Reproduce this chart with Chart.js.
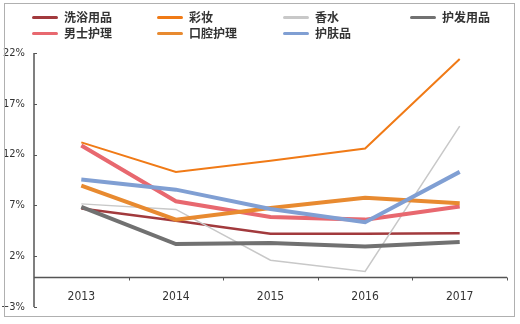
<!DOCTYPE html>
<html>
<head>
<meta charset="utf-8">
<script src="https://cdn.jsdelivr.net/npm/chart.js@4/dist/chart.umd.min.js"></script>
<style>
  html, body { margin: 0; padding: 0; background: #fff; }
  #wrap { position: relative; width: 520px; height: 324px; }
  #frame { position: absolute; left: 4px; top: 3px; width: 511px; height: 314px; border: 1.5px solid #b0b0b0; box-sizing: border-box; pointer-events: none; }
  canvas { position: absolute; left: 0; top: 0; }
  .lg { position: absolute; font-family: "Noto Sans CJK SC", sans-serif; font-weight: 700; font-size: 12px; color: #333; line-height: 14px; white-space: nowrap; }
  .lg i { display: inline-block; width: 26px; height: 3px; border-radius: 2px; vertical-align: middle; margin-right: 6px; position: relative; top: -1px; }
</style>
</head>
<body>
<div id="wrap">
  <canvas id="c" width="520" height="324"></canvas>
  <div id="legend"></div>
  <div id="frame"></div>
</div>
<script>
const categories = ["2013", "2014", "2015", "2016", "2017"];
const seriesNames = ["洗浴用品", "彩妆", "香水", "护发用品", "男士护理", "口腔护理", "护肤品"];
const bathing   = [6.7, 5.5, 4.2, 4.2, 4.25];
const makeup    = [13.2, 10.3, 11.4, 12.6, 21.4];
const perfume   = [7.15, 6.6, 1.6, 0.5, 14.8];
const haircare  = [6.85, 3.2, 3.3, 2.95, 3.4];
const menscare  = [12.9, 7.4, 5.85, 5.6, 6.9];
const oralcare  = [8.95, 5.6, 6.75, 7.75, 7.2];
const skincare  = [9.55, 8.55, 6.65, 5.35, 10.3];
const yTicks = [-3, 2, 7, 12, 17, 22];

const colors = ["#a23a3d", "#f07a16", "#c8c8c8", "#717171", "#e8686f", "#e88a30", "#809fd3"];
const widths = [2.5, 2, 1.5, 4, 4, 4, 4];
const values = [bathing, makeup, perfume, haircare, menscare, oralcare, skincare];

const tickFont = "'Liberation Sans Narrow', 'DejaVu Sans Condensed', 'Liberation Sans', Arial, sans-serif";

// legend (4 columns x 2 rows)
const legendPos = [[32, 10], [157, 10], [283, 10], [410, 10], [32, 26], [157, 26], [283, 26]];
const lg = document.getElementById('legend');
seriesNames.forEach((n, i) => {
  const d = document.createElement('div');
  d.className = 'lg';
  d.style.left = legendPos[i][0] + 'px';
  d.style.top = legendPos[i][1] + 'px';
  d.innerHTML = '<i style="background:' + colors[i] + '"></i>' + n;
  lg.appendChild(d);
});

const axisPlugin = {
  id: 'axisLines',
  afterDatasetsDraw(chart) {
    const ctx = chart.ctx, x = chart.scales.x, y = chart.scales.y, a = chart.chartArea;
    ctx.save();
    ctx.strokeStyle = '#555';
    ctx.lineWidth = 1.5;
    ctx.beginPath();
    ctx.moveTo(a.left, y.getPixelForValue(22));
    ctx.lineTo(a.left, y.getPixelForValue(-3));
    ctx.stroke();
    ctx.lineWidth = 1;
    yTicks.forEach(v => {
      const py = Math.round(y.getPixelForValue(v)) + 0.5;
      ctx.beginPath(); ctx.moveTo(a.left, py); ctx.lineTo(a.left + 3, py); ctx.stroke();
    });
    const py0 = Math.round(y.getPixelForValue(0)) + 0.5;
    ctx.lineWidth = 1.5;
    ctx.beginPath(); ctx.moveTo(a.left, py0); ctx.lineTo(a.right, py0); ctx.stroke();
    ctx.lineWidth = 1;
    const step = x.getPixelForValue(1) - x.getPixelForValue(0);
    for (let i = 0; i < categories.length; i++) {
      const px = Math.round(x.getPixelForValue(i) + step / 2) + 0.5;
      ctx.beginPath(); ctx.moveTo(px, py0); ctx.lineTo(px, py0 + 3); ctx.stroke();
    }
    ctx.restore();
  }
};

new Chart(document.getElementById('c'), {
  type: 'line',
  data: {
    labels: categories,
    datasets: seriesNames.map((n, i) => ({
      label: n,
      data: values[i],
      borderColor: colors[i],
      backgroundColor: colors[i],
      borderWidth: widths[i],
      pointRadius: 0,
      tension: 0,
      fill: false,
      order: 10 - i
    }))
  },
  options: {
    responsive: false,
    animation: false,
    devicePixelRatio: 1,
    layout: { padding: { top: 53, bottom: 17, right: 13, left: 0 } },
    plugins: { legend: { display: false }, tooltip: { enabled: false } },
    scales: {
      x: {
        position: { y: 0 },
        offset: true,
        grid: { display: false, drawTicks: false },
        border: { display: false },
        ticks: {
          padding: 13,
          color: '#333',
          font: { family: tickFont, size: 12 }
        }
      },
      y: {
        min: -3, max: 22,
        afterFit(s) { s.width = 34; },
        afterBuildTicks(s) { s.ticks = yTicks.map(v => ({ value: v })); },
        grid: { display: false, drawTicks: false },
        border: { display: false },
        ticks: {
          padding: 9,
          color: '#333',
          font: { family: tickFont, size: 11 },
          callback: v => (v < 0 ? '\u2212' + Math.abs(v) : v) + '%'
        }
      }
    }
  },
  plugins: [axisPlugin]
});
</script>
</body>
</html>
